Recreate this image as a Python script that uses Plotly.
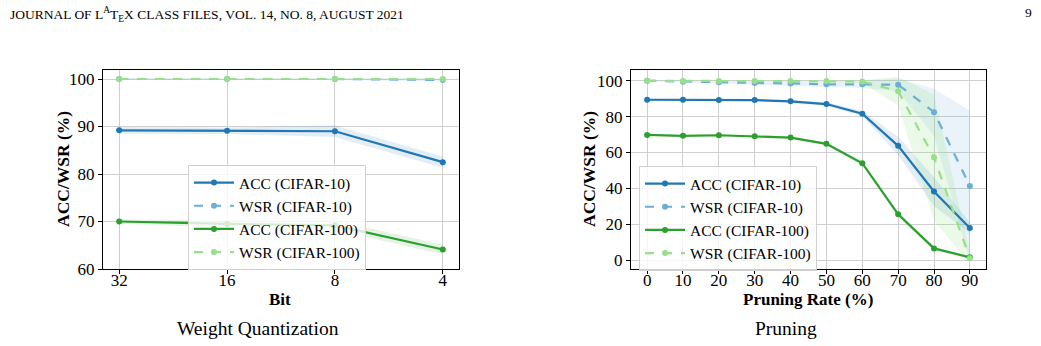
import plotly.graph_objects as go

# ---- data ----
bits = ["32", "16", "8", "4"]
q_acc10 = [89.2, 89.1, 89.0, 82.5]
q_acc10_sd = [0.7, 0.7, 1.2, 1.2]
q_wsr10 = [100.0, 100.0, 100.0, 99.8]
q_wsr10_sd = [0.2, 0.2, 0.2, 0.3]
q_acc100 = [70.0, 69.5, 69.2, 64.1]
q_acc100_sd = [0.4, 0.8, 1.0, 1.0]
q_wsr100 = [100.0, 100.0, 100.0, 100.0]
q_wsr100_sd = [0.1, 0.1, 0.1, 0.2]

rates = [0, 10, 20, 30, 40, 50, 60, 70, 80, 90]
p_acc10 = [89.4, 89.4, 89.2, 89.2, 88.5, 87.0, 81.6, 63.7, 38.2, 17.9]
p_acc10_sd = [0.5, 0.5, 0.6, 0.6, 0.8, 1.0, 1.5, 5.0, 8.0, 3.0]
p_wsr10 = [100.0, 99.5, 99.2, 98.8, 98.5, 98.0, 98.0, 97.8, 82.5, 41.3]
p_wsr10_sd = [0.3, 0.5, 0.8, 1.0, 1.2, 1.5, 2.0, 3.5, 13.0, 42.0]
p_acc100 = [69.8, 69.3, 69.6, 69.1, 68.3, 64.8, 54.0, 25.5, 6.5, 1.5]
p_acc100_sd = [0.5, 0.5, 0.5, 0.6, 0.7, 0.9, 1.2, 1.5, 1.0, 0.5]
p_wsr100 = [100.0, 99.8, 99.8, 99.8, 99.8, 99.8, 99.6, 94.2, 57.2, 1.0]
p_wsr100_sd = [0.1, 0.2, 0.2, 0.2, 0.3, 0.4, 0.8, 8.0, 35.0, 3.0]

labels = ["ACC (CIFAR-10)", "WSR (CIFAR-10)", "ACC (CIFAR-100)", "WSR (CIFAR-100)"]
colors = ["#1f77b4", "#6baed6", "#2ca02c", "#98df8a"]
fills = ["rgba(31,119,180,0.13)", "rgba(107,174,214,0.15)", "rgba(44,160,44,0.13)", "rgba(152,223,138,0.2)"]
dashes = ["solid", "dash", "solid", "dash"]

FONT = "Liberation Serif"
W, H = 1041, 346

fig = go.Figure()

def add_panel(xs, series, sds, xaxis, yaxis, legend):
    xnum = list(range(len(xs))) if isinstance(xs[0], str) else xs
    for i, (ys, sd) in enumerate(zip(series, sds)):
        up = [y + s for y, s in zip(ys, sd)]
        lo = [y - s for y, s in zip(ys, sd)]
        fig.add_trace(go.Scatter(
            x=xnum + xnum[::-1], y=up + lo[::-1], fill="toself",
            fillcolor=fills[i], line=dict(width=0), mode="lines",
            showlegend=False, hoverinfo="skip", xaxis=xaxis, yaxis=yaxis))
    for i, ys in enumerate(series):
        fig.add_trace(go.Scatter(
            x=xnum, y=ys, mode="lines+markers", name=labels[i],
            line=dict(color=colors[i], width=2.2, dash=dashes[i]),
            marker=dict(color=colors[i], size=6),
            xaxis=xaxis, yaxis=yaxis, legend=legend))

add_panel(bits, [q_acc10, q_wsr10, q_acc100, q_wsr100],
          [q_acc10_sd, q_wsr10_sd, q_acc100_sd, q_wsr100_sd], "x", "y", "legend")
add_panel(rates, [p_acc10, p_wsr10, p_acc100, p_wsr100],
          [p_acc10_sd, p_wsr10_sd, p_acc100_sd, p_wsr100_sd], "x2", "y2", "legend2")

ax_common = dict(showline=True, linecolor="black", linewidth=1, mirror=True,
                 showgrid=True, gridcolor="#cfcfcf", gridwidth=1, zeroline=False,
                 ticks="outside", ticklen=4, tickcolor="black", automargin=False,
                 tickfont=dict(family=FONT, size=17, color="black"))
xax_extra = dict(ticklabelstandoff=-8)

ydom = [1 - 269 / H, 1 - 70 / H]
legend_common = dict(xanchor="left", yanchor="top",
                     bgcolor="rgba(255,255,255,0.8)", bordercolor="#d0d0d0", borderwidth=1,
                     font=dict(family=FONT, size=15.5, color="black"), tracegroupgap=0,
                     itemwidth=40)
fig.update_layout(
    width=W, height=H, margin=dict(l=0, r=0, t=0, b=0),
    paper_bgcolor="white", plot_bgcolor="white",
    xaxis=dict(domain=[103 / W, 459 / W], range=[-0.15, 3.15],
               tickvals=list(range(len(bits))), ticktext=bits, **ax_common, **xax_extra),
    yaxis=dict(domain=ydom, range=[60, 101.9], tickvals=[60, 70, 80, 90, 100], **ax_common),
    xaxis2=dict(domain=[631 / W, 986 / W], range=[-4.5, 94.5], anchor="y2",
                tickvals=rates, **ax_common, **xax_extra),
    yaxis2=dict(domain=ydom, range=[-5, 106], anchor="x2", tickvals=[0, 20, 40, 60, 80, 100],
                **ax_common),
    legend=dict(x=188 / W, y=1 - 165 / H, **legend_common),
    legend2=dict(x=639 / W, y=1 - 166 / H, **legend_common),
    showlegend=True,
)

def txt(text, x, y, size, bold=False, angle=0, xanchor="center", yanchor="middle"):
    f = dict(family=FONT, size=size, color="black")
    if bold:
        f["weight"] = "bold"
    fig.add_annotation(text=text, x=x / W, y=1 - y / H, xref="paper", yref="paper",
                       xanchor=xanchor, yanchor=yanchor, showarrow=False, textangle=angle, font=f)

# axis titles
txt("ACC/WSR (%)", 63, 169, 17.5, bold=True, angle=-90)
txt("ACC/WSR (%)", 589, 169, 17.5, bold=True, angle=-90)
txt("Bit", 280, 299, 17, bold=True)
txt("Pruning Rate (%)", 808, 299, 17, bold=True)

# page text
txt("JOURNAL OF L<sup>A</sup>T<sub>E</sub>X CLASS FILES, VOL. 14, NO. 8, AUGUST 2021",
    8, 3, 13.5, xanchor="left", yanchor="top")
txt("9", 1034, 3, 13.5, xanchor="right", yanchor="top")
txt("Weight Quantization", 258, 328, 19.5)
txt("Pruning", 786, 328, 19.5)

fig.write_html("out.html")
